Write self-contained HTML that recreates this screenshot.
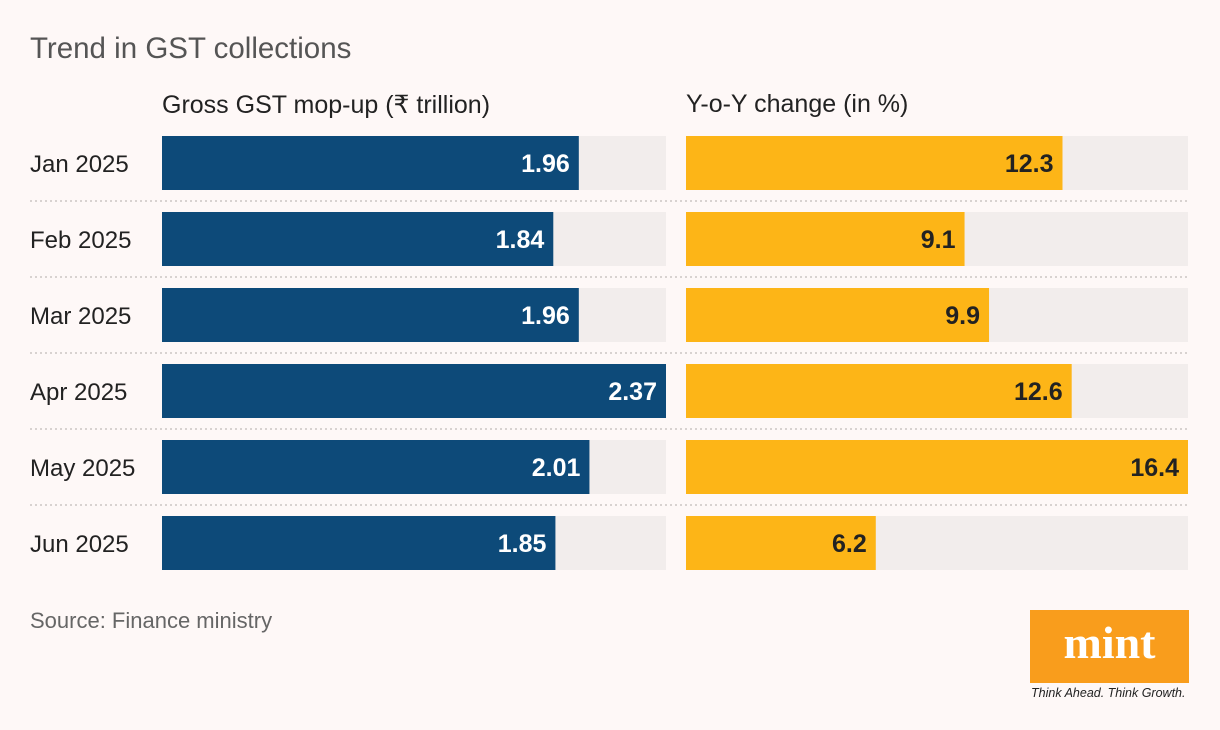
<!DOCTYPE html>
<html><head><meta charset="utf-8"><style>
body{margin:0;background:#fef8f7;font-family:"Liberation Sans",sans-serif;}
#root{position:relative;width:1220px;height:730px;overflow:hidden;}
.t{position:absolute;white-space:nowrap;}
</style></head><body>
<div id="root">
<div class="t" style="left:30px;top:32px;font-size:29.5px;color:#555;">Trend in GST collections</div>
<div class="t" style="left:162px;top:90px;font-size:25px;color:#222;">Gross GST mop-up (₹ trillion)</div>
<div class="t" style="left:686px;top:90px;font-size:25px;color:#222;">Y-o-Y change (in %)</div>
<svg id="svg" width="1220" height="730" style="position:absolute;left:0;top:0"></svg>
<div class="t" style="left:30px;top:608px;font-size:22px;color:#666;">Source: Finance ministry</div>
<div style="position:absolute;left:1030px;top:610px;width:159px;height:73px;background:#f99d1c;color:#fff;font-family:'Liberation Serif',serif;font-weight:bold;font-size:46px;text-align:center;line-height:66px;">mint</div>
<div class="t" style="left:1031px;top:686px;font-size:12.5px;font-style:italic;color:#222;">Think Ahead. Think Growth.</div>
</div>
<script>
const months=["Jan 2025","Feb 2025","Mar 2025","Apr 2025","May 2025","Jun 2025"];
const gross=[1.96,1.84,1.96,2.37,2.01,1.85];
const grossLabels=["1.96","1.84","1.96","2.37","2.01","1.85"];
const yoy=[12.3,9.1,9.9,12.6,16.4,6.2];
const yoyLabels=["12.3","9.1","9.9","12.6","16.4","6.2"];
const svg=document.getElementById('svg');
const NS="http://www.w3.org/2000/svg";
const gMax=Math.max(...gross), yMax=Math.max(...yoy);
const L0=162,LW=504,R0=686,RW=502,top0=136,step=76,bh=54;
const xL=v=>v/gMax*LW, xR=v=>v/yMax*RW, yRow=i=>top0+i*step;
function mk(tag,a){const e=document.createElementNS(NS,tag);for(const k in a)e.setAttribute(k,a[k]);svg.appendChild(e);return e;}
months.forEach((m,i)=>{
 const y=yRow(i);
 if(i>0){const ln=mk('line',{x1:30,x2:1188,y1:y-11,y2:y-11,stroke:'#d8d2d0','stroke-width':2,'stroke-dasharray':'2,3'});
 
 }
 const lab=mk('text',{x:30,y:y+bh/2+9,'font-size':24,fill:'#222','font-family':'Liberation Sans'});lab.textContent=m;
 
 
 const t1=mk('rect',{x:L0,y:y,width:LW,height:bh,fill:'#f2edec'});
 
 
 const b1=mk('rect',{x:L0,y:y,width:xL(gross[i]),height:bh,fill:'#0d4a79'});
 
 
 const v1=mk('text',{x:L0+xL(gross[i])-9,y:y+bh/2+9,'font-size':25,'font-weight':'bold',fill:'#fff','text-anchor':'end','font-family':'Liberation Sans'});v1.textContent=grossLabels[i];
 
 
 const t2=mk('rect',{x:R0,y:y,width:RW,height:bh,fill:'#f2edec'});
 
 
 const b2=mk('rect',{x:R0,y:y,width:xR(yoy[i]),height:bh,fill:'#fdb517'});
 
 
 const v2=mk('text',{x:R0+xR(yoy[i])-9,y:y+bh/2+9,'font-size':25,'font-weight':'bold',fill:'#222','text-anchor':'end','font-family':'Liberation Sans'});v2.textContent=yoyLabels[i];
 
 
});
</script>
</body></html>
